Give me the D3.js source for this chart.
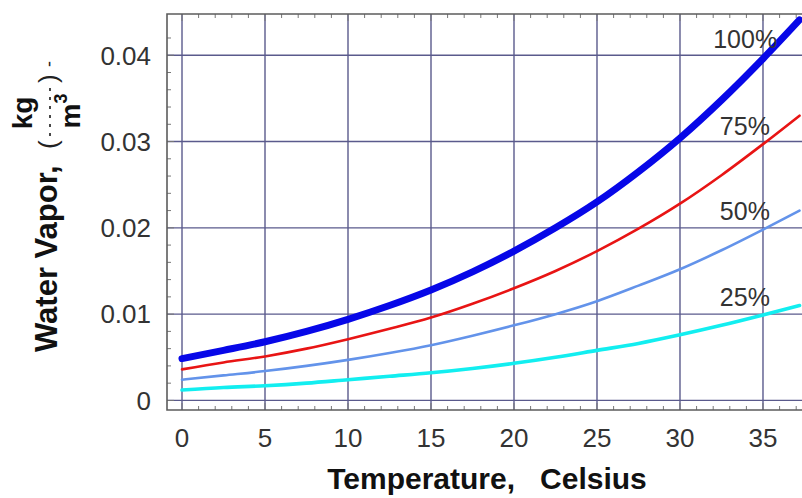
<!DOCTYPE html>
<html>
<head>
<meta charset="utf-8">
<script src="https://cdn.jsdelivr.net/npm/d3@7"></script>
<style>
  html, body { margin: 0; padding: 0; background: #fff; }
  svg { display: block; font-family: "Liberation Sans", Arial, sans-serif; }
</style>
</head>
<body>
<svg id="chart" width="802" height="498"></svg>
<script>
// ---- data ----
const temps = [0, 2.5, 5, 7.5, 10, 12.5, 15, 17.5, 20, 22.5, 25, 27.5, 30, 32.5, 35, 37.2];
const rh100 = [0.00485, 0.0058, 0.0068, 0.0080, 0.0094, 0.0110, 0.0128, 0.0149, 0.0173, 0.0200, 0.0230, 0.0265, 0.0304, 0.0348, 0.0396, 0.0441];
const rh75  = [0.0036, 0.0044, 0.0051, 0.0060, 0.0071, 0.0083, 0.0096, 0.0112, 0.0130, 0.0150, 0.0173, 0.0199, 0.0228, 0.0261, 0.0297, 0.0330];
const rh50  = [0.0024, 0.0029, 0.0034, 0.0040, 0.0047, 0.0055, 0.0064, 0.0075, 0.0087, 0.0100, 0.0115, 0.0133, 0.0152, 0.0174, 0.0198, 0.0220];
const rh25  = [0.0012, 0.0015, 0.0017, 0.0020, 0.0024, 0.0028, 0.0032, 0.0037, 0.0043, 0.0050, 0.0058, 0.0066, 0.0076, 0.0087, 0.0099, 0.0110];
const seriesNames = ["100%", "75%", "50%", "25%"];
const xTickLabels = [0, 5, 10, 15, 20, 25, 30, 35];
const yTickLabels = [0, 0.01, 0.02, 0.03, 0.04];
// label anchor positions (data units)
const labelT = [32.0, 32.4, 32.4, 32.4];
const labelV = [0.0408, 0.0308, 0.0209, 0.01095];

// ---- styles ----
const colors = ["#0707e8", "#e81414", "#6393ea", "#12eef0"];
const widths = [7, 2.6, 2.6, 3.6];

const svg = d3.select("#chart");
const pL = 167, pR = 802, pT = 14, pB = 410;

const x = d3.scaleLinear().domain([-0.904, 37.35]).range([pL, pR]);
const y = d3.scaleLinear().domain([-0.00111, 0.04478]).range([pB, pT]);

// grid
const gridColor = "#5a5a8c";
svg.append("g").selectAll("line").data(xTickLabels).join("line")
  .attr("x1", d => x(d)).attr("x2", d => x(d)).attr("y1", pT).attr("y2", pB)
  .attr("stroke", gridColor).attr("stroke-width", 1.4);
svg.append("g").selectAll("line").data(yTickLabels).join("line")
  .attr("x1", pL).attr("x2", pR).attr("y1", d => y(d)).attr("y2", d => y(d))
  .attr("stroke", gridColor).attr("stroke-width", 1.4);

// minor ticks (inward) on bottom/top and left
const minorX = d3.range(0, 38, 1);
const minorY = d3.range(0, 22).map(i => i * 0.002);
const tickCol = "#777";
const frame = svg.append("g");
frame.append("g").selectAll("line").data(minorX).join("line")
  .attr("x1", d => x(d)).attr("x2", d => x(d))
  .attr("y1", pB).attr("y2", d => pB - (d % 5 === 0 ? 7 : 4))
  .attr("stroke", tickCol).attr("stroke-width", 1);
frame.append("g").selectAll("line").data(minorX).join("line")
  .attr("x1", d => x(d)).attr("x2", d => x(d))
  .attr("y1", pT).attr("y2", d => pT + (d % 5 === 0 ? 7 : 4))
  .attr("stroke", tickCol).attr("stroke-width", 1);
frame.append("g").selectAll("line").data(minorY).join("line")
  .attr("x1", pL).attr("x2", (d, i) => pL + (i % 5 === 0 ? 7 : 4))
  .attr("y1", d => y(d)).attr("y2", d => y(d))
  .attr("stroke", tickCol).attr("stroke-width", 1);

// frame (left, top, bottom)
frame.append("path")
  .attr("d", `M${pR},${pT}H${pL}V${pB}H${pR}`)
  .attr("fill", "none").attr("stroke", "#5c5c5c").attr("stroke-width", 1.6);

// tick labels
svg.append("g").selectAll("text").data(xTickLabels).join("text")
  .attr("x", d => x(d)).attr("y", 447)
  .attr("text-anchor", "middle").attr("font-size", 26).attr("fill", "#333")
  .text(d => d);
svg.append("g").selectAll("text").data(yTickLabels).join("text")
  .attr("x", 151).attr("y", d => y(d)).attr("dy", "0.36em")
  .attr("text-anchor", "end").attr("font-size", 26).attr("fill", "#333")
  .text(d => d === 0 ? "0" : d3.format(".2f")(d));

// curves
const allSeries = [rh100, rh75, rh50, rh25];
const line = d3.line().x(d => x(d[0])).y(d => y(d[1])).curve(d3.curveMonotoneX);
svg.append("g").selectAll("path").data(allSeries).join("path")
  .attr("d", s => line(temps.map((t, i) => [t, s[i]])))
  .attr("fill", "none")
  .attr("stroke", (s, i) => colors[i])
  .attr("stroke-width", (s, i) => widths[i])
  .attr("stroke-linecap", "round");

// series labels
svg.append("g").selectAll("text").data(seriesNames).join("text")
  .attr("x", (d, i) => x(labelT[i])).attr("y", (d, i) => y(labelV[i]))
  .attr("font-size", 25).attr("fill", "#333")
  .text(d => d);

// x title
svg.append("text")
  .attr("x", 487).attr("y", 489).attr("text-anchor", "middle")
  .attr("font-size", 30).attr("font-weight", "bold").attr("fill", "#111")
  .attr("xml:space", "preserve")
  .text("Temperature,   Celsius");

// y title (rotated)
const yt = svg.append("g").attr("transform", "translate(57,0) rotate(-90)");
yt.append("text").attr("x", -352).attr("y", 0)
  .attr("font-size", 31).attr("font-weight", "bold").attr("fill", "#111")
  .text("Water Vapor,");
yt.append("text").attr("x", -149).attr("y", 0)
  .attr("font-size", 26).attr("fill", "#222").text("(");
yt.append("line").attr("x1", -136).attr("x2", -88).attr("y1", -7).attr("y2", -7)
  .attr("stroke", "#333").attr("stroke-width", 1.8).attr("stroke-dasharray", "3,6");
yt.append("text").attr("x", -113).attr("y", -25).attr("text-anchor", "middle")
  .attr("font-size", 28).attr("font-weight", "bold").attr("fill", "#111").text("kg");
const mt = yt.append("text").attr("x", -111).attr("y", 23).attr("text-anchor", "middle")
  .attr("font-size", 28).attr("font-weight", "bold").attr("fill", "#111");
mt.append("tspan").text("m");
mt.append("tspan").attr("font-size", 18).attr("dy", -13).text("3");
yt.append("text").attr("x", -83).attr("y", 0)
  .attr("font-size", 26).attr("fill", "#222").text(")");
yt.append("text").attr("x", -67).attr("y", -2)
  .attr("font-size", 18).attr("fill", "#222").text("-");
</script>
</body>
</html>
